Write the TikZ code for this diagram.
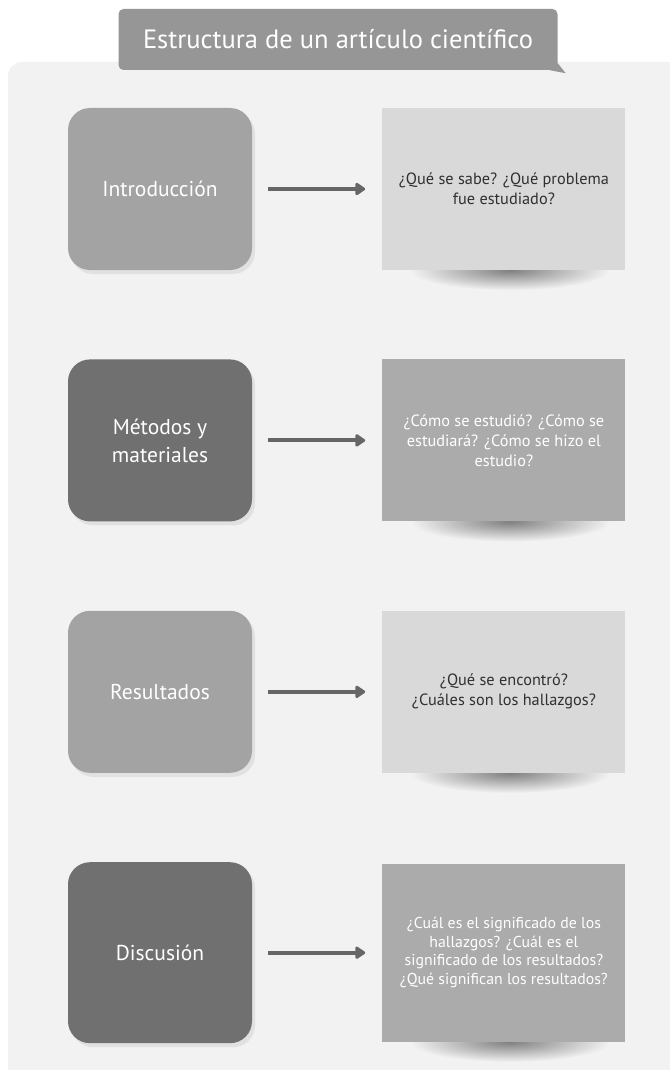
\documentclass[tikz,border=0pt]{standalone}
\usepackage{fontspec}
\setmainfont{PT Sans}
\usepackage{tikz}
\usetikzlibrary{arrows.meta,positioning,shadows,backgrounds,calc}

\definecolor{panelgray}{HTML}{F2F2F2}
\definecolor{titlegray}{HTML}{969696}
\definecolor{lightpart}{HTML}{A3A3A3}
\definecolor{darkpart}{HTML}{707070}
\definecolor{lightask}{HTML}{D9D9D9}
\definecolor{darkask}{HTML}{ABABAB}
\definecolor{asktext}{HTML}{303030}
\definecolor{arrowgray}{HTML}{666666}

\begin{document}
\begin{tikzpicture}[x=1pt,y=-1pt,node distance=89pt and 130pt]
  % Node style
  \tikzstyle{part}=[rounded corners=22pt,minimum width=184pt,minimum height=162pt,align=center,text=white,font=\fontsize{21.5}{28}\selectfont,drop shadow={opacity=0.15,shadow xshift=3pt,shadow yshift=-4pt}]
  \tikzstyle{ask}=[minimum width=243pt,minimum height=162pt,align=center,font=\fontsize{16.3}{20}\selectfont]
  \tikzstyle{link}=[line width=4pt,draw=arrowgray,-{Triangle[length=11pt,width=14pt,round]},shorten <=16pt,shorten >=17pt]
  \tikzstyle{curl}=[inner color=black!50,outer color=panelgray]

  \useasboundingbox (0,0) rectangle (669,1070);

  % Title
  \node[fill=titlegray,rounded corners=5pt,minimum width=439pt,minimum height=61pt,text=white,font=\fontsize{26.5}{30}\selectfont] (title) at (338,39.5) {Estructura de un artículo científico};
  \fill[titlegray] ($(title.south east)+(-8,0)$) -- ++(16,3) -- ++(-8,-10) -- cycle;

  % Nodes
  \node[part,fill=lightpart] (intro) at (160,189) {Introducción};
  \node[part,fill=darkpart,below=of intro] (met) {Métodos y\\materiales};
  \node[part,fill=lightpart,below=of met] (res) {Resultados};
  \node[part,fill=darkpart,below=of res,minimum height=181pt] (disc) {Discusión};

  \node[ask,fill=lightask,text=asktext,right=of intro] (introq) {¿Qué se sabe? ¿Qué problema\\fue estudiado?};
  \node[ask,fill=darkask,text=white,right=of met] (metq) {¿Cómo se estudió? ¿Cómo se\\estudiará? ¿Cómo se hizo el\\estudio?};
  \node[ask,fill=lightask,text=asktext,right=of res] (resq) {¿Qué se encontró?\\¿Cuáles son los hallazgos?};
  \node[ask,fill=darkask,text=white,right=of disc,minimum height=178pt,font=\fontsize{15.8}{18.5}\selectfont] (discq) {¿Cuál es el significado de los\\hallazgos? ¿Cuál es el\\significado de los resultados?\\¿Qué significan los resultados?};

  % Connections
  \draw[link] (intro.east) -- (introq.west);
  \draw[link] (met.east) -- (metq.west);
  \draw[link] (res.east) -- (resq.west);
  \draw[link] (disc.east) -- (discq.west);

  % Panel and curled shadows
  \begin{scope}[on background layer]
    \fill[white] (0,0) rectangle (669,1070);
    \fill[panelgray,rounded corners=14pt] (8,62) rectangle (690,1090);
    \shade[curl] ($(introq.south)+(6,0)$) ellipse [x radius=100,y radius=20];
    \shade[curl] ($(metq.south)+(6,0)$) ellipse [x radius=100,y radius=20];
    \shade[curl] ($(resq.south)+(6,0)$) ellipse [x radius=100,y radius=20];
    \shade[curl] ($(discq.south)+(6,0)$) ellipse [x radius=100,y radius=20];
  \end{scope}
\end{tikzpicture}
\end{document}
